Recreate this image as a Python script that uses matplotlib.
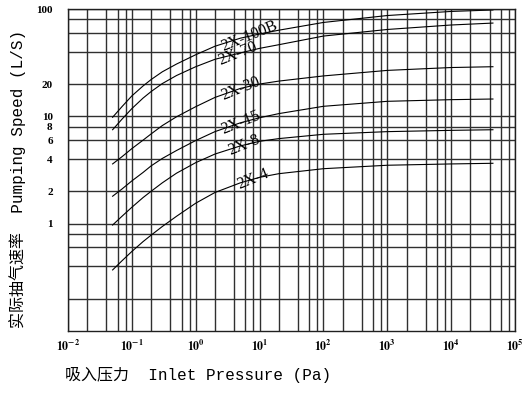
import numpy as np
import matplotlib
matplotlib.use('Agg')
import matplotlib.pyplot as plt
from matplotlib.ticker import FixedLocator, NullFormatter, LogLocator

# 吸入压力 (Pa) 与各型号实际抽气速率 (L/S)
pressure = [0.05, 0.07, 0.1, 0.15, 0.2, 0.3, 0.5, 1, 2, 5, 10, 20, 100, 1000, 1e4, 4.5e4]
speed_100b = [9.8, 12.3, 15.5, 19.2, 22.0, 26, 30.7, 37.5, 45, 53.5, 58.5, 63.5, 75, 87, 95, 98]
speed_70 = [7.5, 9.4, 11.8, 14.8, 17.0, 20.2, 24, 29, 34, 39, 43, 46.5, 56, 64.5, 71, 74]
speed_30 = [3.6, 4.2, 5.0, 6.0, 6.85, 8.2, 9.9, 12.3, 15.0, 18.2, 20.0, 21.3, 23.8, 26.8, 28.5, 29]
speed_15 = [1.8, 2.1, 2.5, 3.0, 3.45, 4.05, 4.8, 5.95, 7.2, 8.7, 9.7, 10.6, 12.4, 13.8, 14.3, 14.5]
speed_8 = [0.97, 1.17, 1.42, 1.75, 2.0, 2.4, 2.95, 3.7, 4.45, 5.3, 5.85, 6.2, 6.8, 7.2, 7.4, 7.5]
speed_4 = [0.37, 0.45, 0.55, 0.68, 0.78, 0.94, 1.17, 1.55, 1.95, 2.4, 2.7, 2.92, 3.25, 3.5, 3.6, 3.65]

models = ['2X-100B', '2X-70', '2X-30', '2X-15', '2X-8', '2X-4']
curves = [speed_100b, speed_70, speed_30, speed_15, speed_8, speed_4]
label_at = [6.9, 4.5, 5.0, 5.0, 5.7, 7.9]   # 标注所在的压力位置

y_grid = [0.2, 0.4, 0.6, 0.8, 1, 2, 4, 6, 8, 10, 20, 40, 60, 80, 100]
y_labels = ['', '', '', '', '1', '2', '4', '6', '8', '10', '20', '', '', '', '100']

plt.rcParams['mathtext.fontset'] = 'stix'

fig = plt.figure(figsize=(5.31, 3.93), dpi=100)
ax = fig.add_axes([0.128, 0.158, 0.842, 0.819])
ax.set_xscale('log')
ax.set_yscale('log')
ax.set_xlim(1e-2, 1e5)
ax.set_ylim(0.1, 100)

# 网格
ax.xaxis.set_minor_locator(LogLocator(base=10, subs=(2, 4, 6, 8), numticks=10))
ax.xaxis.set_minor_formatter(NullFormatter())
ax.yaxis.set_major_locator(FixedLocator(y_grid))
ax.yaxis.set_minor_locator(FixedLocator([]))
ax.set_yticklabels(y_labels)
ax.set_xticks([10.0 ** k for k in range(-2, 6)])
ax.set_xticklabels([r'$\mathbf{10^{%d}}$' % k for k in range(-2, 6)])
ax.grid(True, which='both', color='#303030', linewidth=1.0)
ax.tick_params(which='both', length=0)
ax.tick_params(axis='x', pad=6, labelsize=8.5)
ax.tick_params(axis='y', pad=11)
for lab in ax.get_yticklabels():
    lab.set_fontfamily('Liberation Serif')
    lab.set_fontweight('bold')
    lab.set_fontsize(8)
for sp in ax.spines.values():
    sp.set_color('#202020')
    sp.set_linewidth(1.0)

# 曲线
for name, s, xl in zip(models, curves, label_at):
    ax.plot(pressure, s, color='black', linewidth=0.8)
    yl = 10 ** np.interp(np.log10(xl), np.log10(pressure), np.log10(s))
    ax.text(xl, yl, name, rotation=22, ha='center', va='center',
            fontsize=11.5, family='Liberation Serif', color='black')

lab_font = ['Liberation Mono', 'Noto Sans CJK SC']
fig.text(65 / 531, 1 - 375 / 393, '吸入压力  Inlet Pressure (Pa)',
         ha='left', va='center', fontsize=11.5, family=lab_font)
fig.text(18 / 531, 1 - 179 / 393, '实际抽气速率  Pumping Speed (L/S)',
         ha='center', va='center', rotation=90, fontsize=11.5, family=lab_font)

fig.savefig('out.png', dpi=100)
